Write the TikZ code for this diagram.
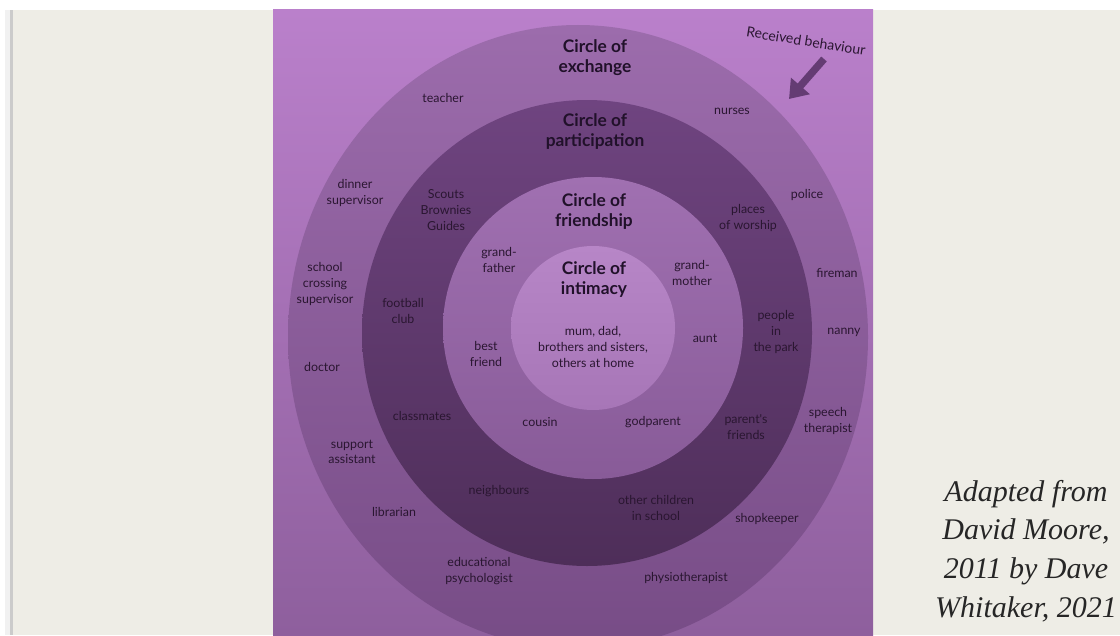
\documentclass[tikz,border=0pt]{standalone}
\usepackage{fontspec}
\setmainfont{Liberation Serif}
\newfontfamily\labelfont{Lato}
\usetikzlibrary{arrows.meta}

\definecolor{pagebg}{HTML}{EEEDE6}
\definecolor{sidestrip}{HTML}{F1F1F1}
\definecolor{sideline}{HTML}{CBCBCB}
\definecolor{photoTop}{HTML}{BA80CB}
\definecolor{photoBot}{HTML}{8E5F9D}
\definecolor{exchTop}{HTML}{9C6CAC}
\definecolor{exchBot}{HTML}{774C86}
\definecolor{partTop}{HTML}{6F4480}
\definecolor{partBot}{HTML}{4E2E59}
\definecolor{friendTop}{HTML}{A070B1}
\definecolor{friendBot}{HTML}{885B98}
\definecolor{intimTop}{HTML}{B786C7}
\definecolor{intimBot}{HTML}{A776B7}
\definecolor{inkdark}{HTML}{21112A}
\definecolor{inktext}{HTML}{2A1631}
\definecolor{arrowpurple}{HTML}{643C73}
\definecolor{captiontext}{HTML}{262626}

\begin{document}
\begin{tikzpicture}[x=0.75pt,y=-0.75pt,
  lbl/.style={font=\labelfont\fontsize{9.3}{11.8}\selectfont, text=inktext, align=center, inner sep=0pt},
  heading/.style={font=\labelfont\bfseries\fontsize{13}{15}\selectfont, text=inkdark, align=center, inner sep=0pt}]
\useasboundingbox (0,0) rectangle (1120,635);
% Page
\fill[white] (0,0) rectangle (1120,635);
\fill[pagebg] (13,10) rectangle (1120,635);
\fill[sidestrip] (5,10) rectangle (10,635);
\fill[sideline] (10,10) rectangle (13,635);
% Photo of the circles
\begin{scope}
  \clip (273,10) rectangle (873,635);
  \shade[top color=photoTop, bottom color=photoBot] (273,10) rectangle (873,635);
  \shade[top color=exchTop, bottom color=exchBot] (578,337) ellipse [x radius=290, y radius=312];
  \shade[top color=partTop, bottom color=partBot] (587,333) ellipse [x radius=225, y radius=233];
  \shade[top color=friendTop, bottom color=friendBot] (593,328) ellipse [x radius=150, y radius=151];
  \shade[top color=intimTop, bottom color=intimBot] (593,328) ellipse [x radius=82, y radius=82];
\end{scope}
% Circle names
\node[heading] (exchange) at (595,58) {Circle of\\exchange};
\node[heading] (participation) at (595,132) {Circle of\\participation};
\node[heading] (friendship) at (594,212) {Circle of\\friendship};
\node[heading] (intimacy) at (594,280) {Circle of\\intimacy};
% People in each circle
\foreach \nm/\px/\py/\txt in {
  teacher/443/98/teacher, nurses/732/111/nurses,
  dinner/355/193/{dinner\\supervisor}, scouts/446/210/{Scouts\\Brownies\\Guides},
  worship/748/218/{places\\of worship}, police/807/195/police,
  grandfather/499/260/{grand-\\father}, grandmother/692/273/{grand-\\mother},
  fireman/837/273/fireman, crossing/325/284/{school\\crossing\\supervisor},
  football/403/311/{football\\club}, park/776/332/{people\\in\\the park},
  nanny/844/332/nanny, home/593/347/{mum, dad,\\brothers and sisters,\\others at home},
  aunt/705/338/aunt, bestfriend/486/354/{best\\friend}, doctor/322/367/doctor,
  classmates/422/416/classmates, cousin/540/422/cousin, godparent/653/422/godparent,
  parents/746/427/{parent's\\friends}, speech/828/421/{speech\\therapist},
  support/352/452/{support\\assistant}, neighbours/499/491/neighbours,
  otherchildren/656/508/{other children\\in school}, shopkeeper/767/519/shopkeeper,
  librarian/394/512/librarian, edpsych/479/571/{educational\\psychologist},
  physio/686/578/physiotherapist} {
  \node[lbl] (\nm) at (\px,\py) {\txt};
}
% Received behaviour arrow
\node[lbl, font=\labelfont\fontsize{10.5}{12}\selectfont, rotate=-9] (received) at (806,41) {Received behaviour};
\coordinate (rbtail) at (824,59);
\coordinate (rbtip) at (789,99);
\draw[arrowpurple, line width=5.5pt, -{Triangle[width=18pt,length=13pt]}] (rbtail) -- (rbtip);
% Source note
\node[font=\itshape\fontsize{22.5}{29}\selectfont, text=captiontext, align=center, inner sep=0pt] (source) at (1026,551)
  {Adapted from\\David Moore,\\2011 by Dave\\Whitaker, 2021};
\end{tikzpicture}
\end{document}
